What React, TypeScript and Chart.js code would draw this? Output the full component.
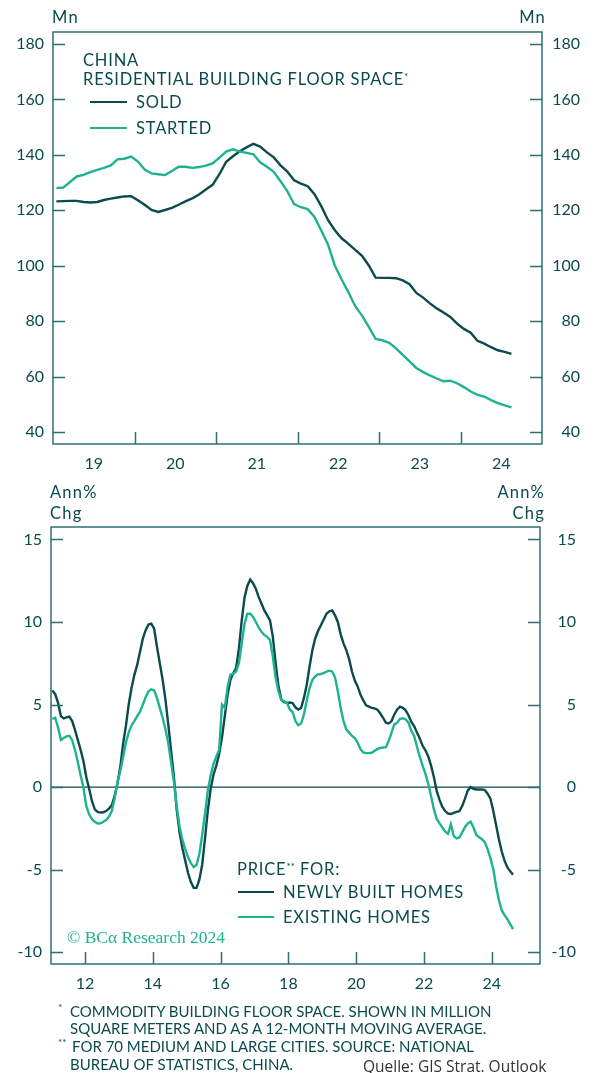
import React, { useEffect, useRef } from 'react';
import { Chart, registerables } from 'chart.js';

Chart.register(...registerables);

// ---------- colours & fonts ----------
const TEXT = '#0b4a4e';
const DARK = '#0b4a4e';
const GREEN = '#1db38f';
const AXIS = '#2f6e74';
const SANS = 'Lato, "Noto Sans", sans-serif';

// ---------- top chart data (monthly, Jan 2019 - Aug 2024, Mn sq m, 12m MA) ----------
const topStartYear = 2019;
const topYearLabels = ['19', '20', '21', '22', '23', '24'];
const topYTicks = [40, 60, 80, 100, 120, 140, 160, 180];
const soldValues = [
  123.2, 123.3, 123.4, 123.4, 123.0, 122.8, 123.0, 123.7, 124.2, 124.6, 125.0, 125.1,
  123.6, 122.0, 120.1, 119.4, 120.1, 120.9, 122.0, 123.2, 124.3, 125.7, 127.5, 129.2,
  133.0, 137.5, 139.5, 141.3, 142.7, 144.0, 143.0, 140.9, 139.1, 136.2, 134.0, 130.8,
  129.6, 128.7, 125.8, 121.5, 116.4, 112.8, 109.9, 107.9, 105.7, 103.6, 100.1, 95.7,
  95.6, 95.6, 95.5, 94.7, 93.3, 90.2, 88.5, 86.4, 84.6, 83.1, 81.5, 79.1,
  77.2, 75.8, 72.9, 71.9, 70.6, 69.5, 68.9, 68.2,
];
const startedValues = [
  128.0, 128.2, 130.2, 132.2, 132.8, 133.8, 134.6, 135.3, 136.2, 138.4, 138.6, 139.4,
  137.6, 134.7, 133.3, 133.0, 132.7, 134.2, 135.7, 135.7, 135.3, 135.6, 136.1, 136.9,
  139.0, 141.2, 142.0, 141.2, 140.7, 140.2, 137.3, 135.7, 133.9, 130.5, 126.9, 122.2,
  121.1, 120.4, 117.6, 112.7, 107.6, 100.0, 95.0, 90.4, 85.4, 82.0, 77.9, 73.6,
  73.1, 72.2, 70.2, 67.8, 65.5, 63.1, 61.6, 60.4, 59.3, 58.3, 58.5, 57.6,
  56.2, 54.6, 53.4, 52.8, 51.5, 50.4, 49.6, 48.9,
];

// ---------- bottom chart data (monthly, Jan 2011 - Aug 2024, Ann% chg) ----------
const bottomStartYear = 2011;
const bottomXTicks = [2012, 2014, 2016, 2018, 2020, 2022, 2024];
const bottomXLabels = ['12', '14', '16', '18', '20', '22', '24'];
const bottomYTicks = [-10, -5, 0, 5, 10, 15];
const newHomesValues = [
  5.86, 5.62, 5.1, 4.3, 4.16, 4.22, 4.27, 4.0, 3.45, 2.85, 2.25, 1.55,
  0.6, -0.1, -0.85, -1.35, -1.5, -1.54, -1.52, -1.45, -1.3, -1.1, -0.55, 0.2,
  1.2, 2.6, 3.7, 5.0, 6.0, 6.8, 7.4, 8.2, 9.0, 9.5, 9.85, 9.9,
  9.6, 8.5, 7.5, 6.5, 5.3, 3.8, 2.2, 0.6, -1.38, -2.75, -3.7, -4.45,
  -5.2, -5.75, -6.1, -6.1, -5.6, -4.7, -3.1, -1.4, -0.1, 0.75, 1.3, 2.0,
  3.0, 4.3, 5.6, 6.5, 6.9, 7.2, 8.4, 10.1, 11.5, 12.2, 12.57, 12.35,
  12.0, 11.5, 11.1, 10.7, 10.4, 10.1, 9.1, 7.5, 6.1, 5.3, 5.14, 5.1,
  5.12, 5.09, 4.83, 4.7, 4.8, 5.4, 6.2, 7.3, 8.3, 9.0, 9.45, 9.8,
  10.15, 10.5, 10.65, 10.7, 10.4, 10.0, 9.25, 8.7, 8.3, 7.75, 7.0, 6.45,
  6.1, 5.6, 5.25, 4.95, 4.88, 4.8, 4.77, 4.69, 4.47, 4.2, 3.9, 3.85,
  4.0, 4.4, 4.7, 4.87, 4.8, 4.65, 4.35, 3.95, 3.7, 3.3, 2.94, 2.5,
  2.23, 1.86, 1.3, 0.6, -0.25, -0.77, -1.2, -1.45, -1.6, -1.63, -1.56, -1.5,
  -1.46, -1.15, -0.7, -0.2, 0.0, -0.1, -0.14, -0.14, -0.14, -0.18, -0.4, -0.7,
  -1.43, -2.3, -3.15, -3.9, -4.45, -4.86, -5.1, -5.3,
];
const existingHomesValues = [
  4.14, 4.2, 3.6, 2.85, 2.97, 3.07, 3.1, 2.84, 2.25, 1.5, 0.7, -0.05,
  -1.15, -1.65, -1.94, -2.1, -2.21, -2.19, -2.1, -2.0, -1.8, -1.45, -0.7, 0.3,
  0.95, 1.8, 2.7, 3.3, 3.75, 4.0, 4.3, 4.57, 5.0, 5.45, 5.8, 5.92,
  5.85, 5.4, 4.8, 4.2, 3.5, 2.65, 1.5, 0.3, -1.2, -2.4, -3.2, -3.75,
  -4.25, -4.6, -4.84, -4.7, -4.05, -2.9, -1.6, -0.2, 0.7, 1.4, 1.85, 2.25,
  5.0, 4.8, 6.1, 6.8, 6.85, 7.0, 7.5, 8.7, 9.9, 10.5, 10.5, 10.3,
  10.0, 9.65, 9.4, 9.2, 9.1, 8.9, 7.9, 6.6, 5.8, 5.3, 5.2, 5.1,
  4.7, 4.55, 4.0, 3.75, 3.85, 4.4, 5.25, 6.0, 6.5, 6.7, 6.83, 6.85,
  6.9, 7.0, 7.05, 7.0, 6.65, 5.8, 4.8, 4.0, 3.5, 3.3, 3.1, 2.97,
  2.7, 2.3, 2.1, 2.06, 2.06, 2.08, 2.2, 2.3, 2.38, 2.4, 2.42, 2.8,
  3.3, 3.8, 3.9, 4.14, 4.17, 4.1, 3.9, 3.4, 3.1, 2.45, 1.84, 1.3,
  0.8, 0.2, -0.55, -1.35, -1.93, -2.2, -2.45, -2.7, -2.83, -2.25, -2.95, -3.1,
  -3.05, -2.75, -2.42, -2.2, -2.1, -2.45, -2.9, -3.03, -3.15, -3.33, -3.75, -4.3,
  -4.95, -6.0, -6.85, -7.47, -7.75, -8.0, -8.3, -8.6,
];

const toMonthly = (start: number, vals: number[]) =>
  vals.map((v, i) => ({ x: start + (i + 0.5) / 12, y: v }));

// ---------- plugin: frame, inner tick marks, zero line ----------
const framePlugin = (xTickVals: number[], yTickVals: number[], zeroLine: boolean) => ({
  id: 'frame',
  beforeDatasetsDraw(chart: any) {
    if (!zeroLine) return;
    const { ctx, chartArea: a, scales } = chart;
    const p = scales.y.getPixelForValue(0);
    ctx.save();
    ctx.strokeStyle = DARK;
    ctx.lineWidth = 1.3;
    ctx.beginPath();
    ctx.moveTo(a.left, p);
    ctx.lineTo(a.right, p);
    ctx.stroke();
    ctx.restore();
  },
  afterDatasetsDraw(chart: any) {
    const { ctx, chartArea: a, scales } = chart;
    ctx.save();
    ctx.strokeStyle = AXIS;
    ctx.lineWidth = 1.5;
    ctx.strokeRect(a.left, a.top, a.right - a.left, a.bottom - a.top);
    ctx.beginPath();
    const L = 12;
    yTickVals.forEach((v) => {
      const p = Math.round(scales.y.getPixelForValue(v)) + 0.5;
      ctx.moveTo(a.left, p);
      ctx.lineTo(a.left + L, p);
      ctx.moveTo(a.right - L, p);
      ctx.lineTo(a.right, p);
    });
    xTickVals.forEach((v) => {
      const p = Math.round(scales.x.getPixelForValue(v)) + 0.5;
      ctx.moveTo(p, a.bottom);
      ctx.lineTo(p, a.bottom - L);
    });
    ctx.stroke();
    ctx.restore();
  },
});

const tickFont = { family: SANS, size: 16 };
const noGrid = { display: false, drawTicks: false };

function TopChart() {
  const ref = useRef<HTMLCanvasElement>(null);
  useEffect(() => {
    const innerYears = topYearLabels.slice(1).map((_, i) => topStartYear + i + 1);
    const chart = new Chart(ref.current!, {
      type: 'line',
      data: {
        datasets: [
          { label: 'STARTED', data: toMonthly(topStartYear, startedValues), borderColor: GREEN, borderWidth: 2.4, pointRadius: 0, tension: 0 },
          { label: 'SOLD', data: toMonthly(topStartYear, soldValues), borderColor: DARK, borderWidth: 2.4, pointRadius: 0, tension: 0 },
        ],
      },
      options: {
        responsive: false,
        animation: false,
        devicePixelRatio: 1,
        events: [],
        layout: { padding: { top: 32, right: 15, left: 0, bottom: 0 } },
        plugins: { legend: { display: false }, tooltip: { enabled: false } },
        scales: {
          x: {
            type: 'linear',
            min: topStartYear,
            max: topStartYear + topYearLabels.length,
            grid: noGrid,
            border: { display: false },
            afterBuildTicks: (s: any) => {
              s.ticks = topYearLabels.map((_, i) => ({ value: topStartYear + i + 0.5 }));
            },
            afterFit: (s: any) => { s.height = 36; },
            ticks: {
              autoSkip: false, maxRotation: 0, color: TEXT, font: tickFont, padding: 10,
              callback: (_v: any, i: number) => topYearLabels[i],
            },
          },
          y: {
            position: 'left', min: 35.67, max: 184.33,
            grid: noGrid, border: { display: false },
            afterBuildTicks: (s: any) => { s.ticks = topYTicks.map((v) => ({ value: v })); },
            afterFit: (s: any) => { s.width = 53; },
            ticks: { color: TEXT, font: tickFont, padding: 9 },
          },
          y2: {
            position: 'right', min: 35.67, max: 184.33,
            grid: noGrid, border: { display: false },
            afterBuildTicks: (s: any) => { s.ticks = topYTicks.map((v) => ({ value: v })); },
            afterFit: (s: any) => { s.width = 38; },
            ticks: { color: TEXT, font: tickFont, padding: 0, crossAlign: 'far' },
          },
        },
      } as any,
      plugins: [framePlugin(innerYears, topYTicks, false)],
    });
    return () => chart.destroy();
  }, []);
  return <canvas ref={ref} width={595} height={480} style={{ position: 'absolute', left: 0, top: 0, width: 595, height: 480 }} />;
}

function BottomChart() {
  const ref = useRef<HTMLCanvasElement>(null);
  useEffect(() => {
    const chart = new Chart(ref.current!, {
      type: 'line',
      data: {
        datasets: [
          { label: 'EXISTING HOMES', data: toMonthly(bottomStartYear, existingHomesValues), borderColor: GREEN, borderWidth: 2.4, pointRadius: 0, tension: 0 },
          { label: 'NEWLY BUILT HOMES', data: toMonthly(bottomStartYear, newHomesValues), borderColor: DARK, borderWidth: 2.4, pointRadius: 0, tension: 0 },
        ],
      },
      options: {
        responsive: false,
        animation: false,
        devicePixelRatio: 1,
        events: [],
        layout: { padding: { top: 57, right: 19, left: 0, bottom: 0 } },
        plugins: { legend: { display: false }, tooltip: { enabled: false } },
        scales: {
          x: {
            type: 'linear', min: 2011, max: 2025.42,
            grid: noGrid, border: { display: false },
            afterBuildTicks: (s: any) => { s.ticks = bottomXTicks.map((v) => ({ value: v })); },
            afterFit: (s: any) => { s.height = 36; },
            ticks: {
              autoSkip: false, maxRotation: 0, color: TEXT, font: tickFont, padding: 10,
              callback: (_v: any, i: number) => bottomXLabels[i],
            },
          },
          y: {
            position: 'left', min: -10.71, max: 15.75,
            grid: noGrid, border: { display: false },
            afterBuildTicks: (s: any) => { s.ticks = bottomYTicks.map((v) => ({ value: v })); },
            afterFit: (s: any) => { s.width = 51; },
            ticks: { color: TEXT, font: tickFont, padding: 9 },
          },
          y2: {
            position: 'right', min: -10.71, max: 15.75,
            grid: noGrid, border: { display: false },
            afterBuildTicks: (s: any) => { s.ticks = bottomYTicks.map((v) => ({ value: v })); },
            afterFit: (s: any) => { s.width = 36; },
            ticks: { color: TEXT, font: tickFont, padding: 0, crossAlign: 'far' },
          },
        },
      } as any,
      plugins: [framePlugin(bottomXTicks, bottomYTicks, true)],
    });
    return () => chart.destroy();
  }, []);
  return <canvas ref={ref} width={595} height={530} style={{ position: 'absolute', left: 0, top: 470, width: 595, height: 530 }} />;
}

// ---------- text helpers ----------
type TP = { x: number; y: number; size?: number; ls?: number; right?: boolean; color?: string; family?: string; children: any };
function T({ x, y, size = 16.5, ls = 0.8, right, color = TEXT, family = SANS, children }: TP) {
  const lh = 20;
  const style: any = {
    position: 'absolute', top: y - lh / 2, lineHeight: `${lh}px`, fontSize: size,
    fontFamily: family, color, whiteSpace: 'nowrap', letterSpacing: ls,
  };
  if (right) style.right = 595 - x; else style.left = x;
  return <div style={style}>{children}</div>;
}
const Sup = ({ children }: any) => (
  <span style={{ fontSize: 10, position: 'relative', top: -5, letterSpacing: 0 }}>{children}</span>
);
const Swatch = ({ x, y, w, color }: any) => (
  <div style={{ position: 'absolute', left: x, top: y - 1.25, width: w, height: 2.5, background: color }} />
);

export default function App() {
  return (
    <div style={{ position: 'absolute', left: 0, top: 0, width: 595, height: 1073, background: '#fff', overflow: 'hidden' }}>
      <TopChart />
      <BottomChart />

      {/* top chart texts */}
      <T x={52} y={17} ls={1.2}>Mn</T>
      <T x={546} y={17} ls={1.2} right>Mn</T>
      <T x={83} y={60}>CHINA</T>
      <T x={83} y={79}>RESIDENTIAL BUILDING FLOOR SPACE<Sup>*</Sup></T>
      <Swatch x={90} y={102} w={37} color={DARK} />
      <T x={136} y={102}>SOLD</T>
      <Swatch x={90} y={128} w={37} color={GREEN} />
      <T x={136} y={128}>STARTED</T>

      {/* bottom chart texts */}
      <T x={50} y={492} ls={1.2}>Ann%</T>
      <T x={50} y={513} ls={1.2}>Chg</T>
      <T x={545} y={492} ls={1.2} right>Ann%</T>
      <T x={545} y={513} ls={1.2} right>Chg</T>
      <T x={237} y={869}>PRICE<Sup>**</Sup> FOR:</T>
      <Swatch x={238} y={892} w={36} color={DARK} />
      <T x={283} y={892}>NEWLY BUILT HOMES</T>
      <Swatch x={238} y={917} w={36} color={GREEN} />
      <T x={283} y={917}>EXISTING HOMES</T>
      <T x={67} y={937} size={17.5} ls={0} color={GREEN} family={'"Liberation Serif", "DejaVu Serif", serif'}>© BCα Research 2024</T>

      {/* footnotes */}
      <T x={58} y={1007} size={10} ls={0}>*</T>
      <T x={70} y={1011} size={15} ls={0}>COMMODITY BUILDING FLOOR SPACE. SHOWN IN MILLION</T>
      <T x={70} y={1028} size={15} ls={0}>SQUARE METERS AND AS A 12-MONTH MOVING AVERAGE.</T>
      <T x={58} y={1042} size={10} ls={0}>**</T>
      <T x={72} y={1046} size={15} ls={0}>FOR 70 MEDIUM AND LARGE CITIES. SOURCE: NATIONAL</T>
      <T x={70} y={1064} size={15} ls={0}>BUREAU OF STATISTICS, CHINA.</T>
      <T x={363} y={1066} size={15.5} ls={0} color="#333" family={'"Open Sans", sans-serif'}>Quelle: GIS Strat. Outlook</T>
    </div>
  );
}
